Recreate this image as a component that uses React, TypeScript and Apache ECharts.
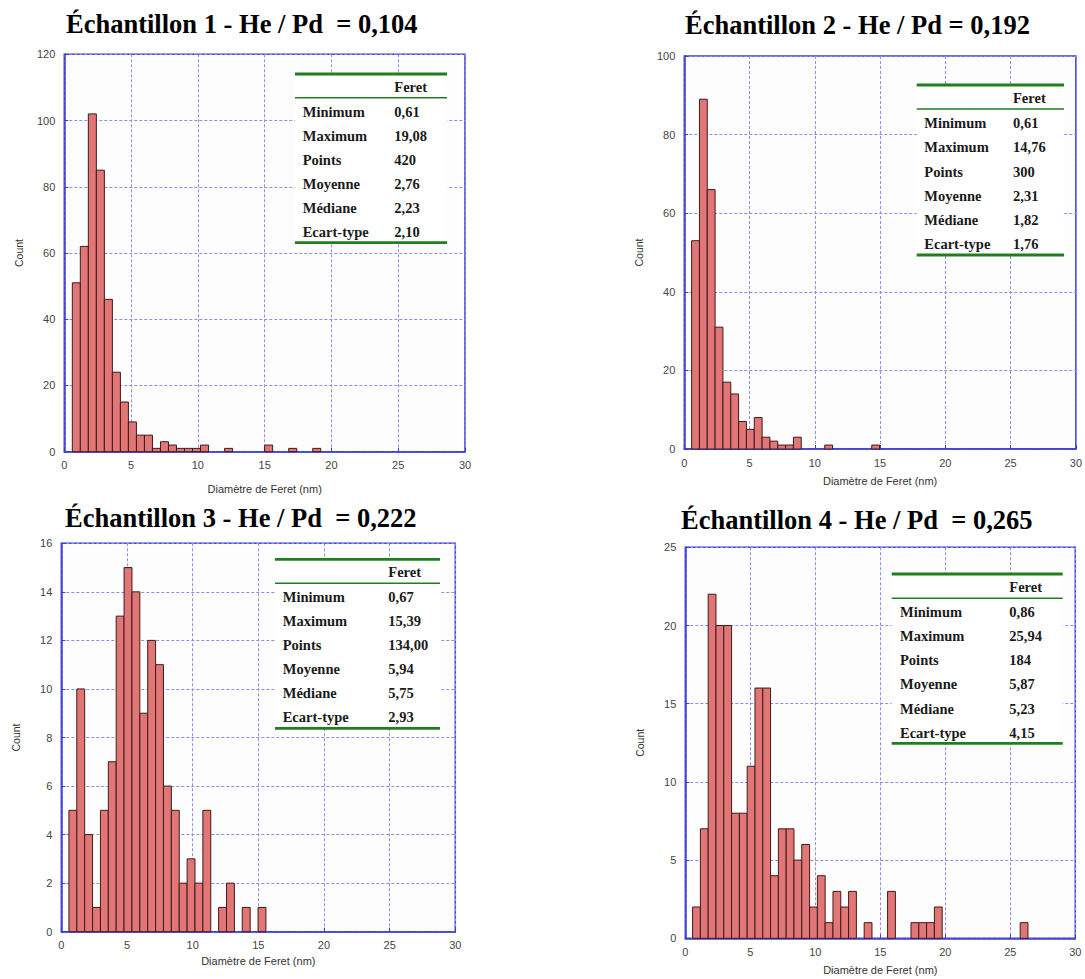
import React, { useEffect, useRef } from "react";
import * as echarts from "echarts";

// ---- Data ----
const titles = [
  "Échantillon 1 - He / Pd  = 0,104",
  "Échantillon 2 - He / Pd = 0,192",
  "Échantillon 3 - He / Pd  = 0,222",
  "Échantillon 4 - He / Pd  = 0,265",
];

// histogram counts per bin (bins of width binWidth starting at binStart)
const counts1 = [51, 62, 102, 85, 46, 24, 15, 9, 5, 5, 1, 3, 2, 1, 1, 1, 2, 0, 0, 1, 0, 0, 0, 0, 2, 0, 0, 1, 0, 0, 1];
const counts2 = [53, 89, 66, 31, 17, 14, 7, 5, 8, 3, 2, 1, 1, 3, 0, 0, 0, 1, 0, 0, 0, 0, 0, 1];
const counts3 = [5, 10, 4, 1, 5, 7, 13, 15, 14, 9, 12, 11, 6, 5, 2, 3, 2, 5, 0, 1, 2, 0, 1, 0, 1];
const counts4 = [2, 7, 22, 20, 20, 8, 8, 11, 16, 16, 4, 7, 7, 5, 6, 2, 4, 1, 3, 2, 3, 0, 1, 0, 0, 3, 0, 0, 1, 1, 1, 2, 0, 0, 0, 0, 0, 0, 0, 0, 0, 0, 1];

const binStarts = [0.6, 0.56, 0.58, 0.56];
const binWidths = [0.6, 0.6, 0.6, 0.6];

const xMax = [30, 30, 30, 30];
const xInterval = [5, 5, 5, 5];
const yMax = [120, 100, 16, 25];
const yInterval = [20, 20, 2, 5];

const statLabels = ["Minimum", "Maximum", "Points", "Moyenne", "Médiane", "Ecart-type"];
const stats1 = ["0,61", "19,08", "420", "2,76", "2,23", "2,10"];
const stats2 = ["0,61", "14,76", "300", "2,31", "1,82", "1,76"];
const stats3 = ["0,67", "15,39", "134,00", "5,94", "5,75", "2,93"];
const stats4 = ["0,86", "25,94", "184", "5,87", "5,23", "4,15"];
const statHeader = "Feret";

const xName = "Diamètre de Feret (nm)";
const yName = "Count";

// ---- Layout ----
const grids = [
  { left: 64.3, top: 54.3, width: 400.7, height: 397.4, nameGap: 32 },
  { left: 684.3, top: 56, width: 394, height: 393, nameGap: 26 },
  { left: 61.3, top: 543.3, width: 394, height: 388.4, nameGap: 24 },
  { left: 685.3, top: 547.3, width: 390, height: 391, nameGap: 26 },
];

const titlePos = [
  { x: 66, y: 24 },
  { x: 685, y: 25 },
  { x: 65, y: 518 },
  { x: 681, y: 520 },
];

const tables = [
  { x1: 295, x2: 447, top: 74, header: 87, mid: 97.7, row0: 111.7, step: 24.05, bottom: 242.7, lx: 302.7, vx: 394.3 },
  { x1: 916.7, x2: 1064, top: 85, header: 98, mid: 109, row0: 123.3, step: 24.1, bottom: 255, lx: 924.3, vx: 1013 },
  { x1: 275, x2: 440, top: 559.3, header: 572.3, mid: 583.3, row0: 596.7, step: 24, bottom: 728.3, lx: 282.7, vx: 388.3 },
  { x1: 891.7, x2: 1062.7, top: 574, header: 586.7, mid: 598.3, row0: 611.7, step: 24.2, bottom: 743.3, lx: 900, vx: 1009.3 },
];

const BLUE = "#3b3bd4";
const GRIDLINE = "#8e8ee8";
const BAR_FILL = "#e27676";
const BAR_STROKE = "#3c1c1c";
const GREEN = "#1f7f1f";
const SERIF = "'Liberation Serif', 'Times New Roman', serif";
const SANS = "'Liberation Sans', Arial, sans-serif";

export default function App() {
  const ref = useRef<HTMLDivElement>(null);

  useEffect(() => {
    if (!ref.current) return;
    const chart = echarts.init(ref.current, undefined, { renderer: "svg" });
    const allCounts = [counts1, counts2, counts3, counts4];
    const allStats = [stats1, stats2, stats3, stats4];

    const series = allCounts.map((cs, gi) => ({
      type: "custom",
      xAxisIndex: gi,
      yAxisIndex: gi,
      encode: { x: [0, 1], y: 2 },
      data: cs.map((c, i) => [
        binStarts[gi] + i * binWidths[gi],
        binStarts[gi] + (i + 1) * binWidths[gi],
        c,
      ]),
      renderItem: (params: any, api: any) => {
        const c = api.value(2);
        if (!c) return { type: "group", children: [] };
        const p0 = api.coord([api.value(0), c]);
        const p1 = api.coord([api.value(1), 0]);
        return {
          type: "rect",
          shape: { x: p0[0], y: p0[1], width: p1[0] - p0[0], height: p1[1] - p0[1] },
          style: { fill: BAR_FILL, stroke: BAR_STROKE, lineWidth: 1 },
        };
      },
    }));

    const graphics: any[] = [];
    titles.forEach((t, i) => {
      graphics.push({
        type: "text",
        x: titlePos[i].x,
        y: titlePos[i].y,
        style: {
          text: t,
          fill: "#000",
          font: `bold 26.5px ${SERIF}`,
          verticalAlign: "middle",
          align: "left",
        },
      });
    });
    tables.forEach((tb, i) => {
      graphics.push({
        type: "rect",
        shape: { x: tb.x1, y: tb.top, width: tb.x2 - tb.x1, height: tb.bottom - tb.top },
        style: { fill: "#ffffff" },
        z: 10,
      });
      const line = (y: number, w: number) => ({
        type: "line",
        shape: { x1: tb.x1, y1: y, x2: tb.x2, y2: y },
        style: { stroke: GREEN, lineWidth: w },
        z: 11,
      });
      graphics.push(line(tb.top, 2.8));
      graphics.push(line(tb.mid, 1.5));
      graphics.push(line(tb.bottom, 2.8));
      const txt = (x: number, y: number, s: string) => ({
        type: "text",
        x,
        y,
        z: 11,
        style: {
          text: s,
          fill: "#1a1a1a",
          font: `bold 14.5px ${SERIF}`,
          verticalAlign: "middle",
          align: "left",
        },
      });
      graphics.push(txt(tb.vx, tb.header, statHeader));
      statLabels.forEach((lab, k) => {
        graphics.push(txt(tb.lx, tb.row0 + k * tb.step, lab));
        graphics.push(txt(tb.vx, tb.row0 + k * tb.step, allStats[i][k]));
      });
    });

    chart.setOption({
      animation: false,
      backgroundColor: "#ffffff",
      grid: grids.map((g) => ({
        left: g.left,
        top: g.top,
        width: g.width,
        height: g.height,
        show: true,
        borderColor: BLUE,
        borderWidth: 1.5,
        backgroundColor: "#fdfdfd",
        containLabel: false,
      })),
      xAxis: grids.map((g, i) => ({
        type: "value",
        gridIndex: i,
        min: 0,
        max: xMax[i],
        interval: xInterval[i],
        name: xName,
        nameLocation: "middle",
        nameGap: g.nameGap,
        nameTextStyle: { color: "#333", fontSize: 11, fontFamily: SANS },
        axisLine: { show: true, lineStyle: { color: BLUE, width: 1.5 } },
        axisTick: { show: true, inside: true, length: 4, lineStyle: { color: BLUE } },
        axisLabel: { color: "#444", fontSize: 11, fontFamily: SANS, margin: 8 },
        splitLine: { show: true, lineStyle: { color: GRIDLINE, type: [3, 2], width: 1 } },
      })),
      yAxis: grids.map((g, i) => ({
        type: "value",
        gridIndex: i,
        min: 0,
        max: yMax[i],
        interval: yInterval[i],
        name: yName,
        nameLocation: "middle",
        nameGap: 40,
        nameTextStyle: { color: "#333", fontSize: 10.5, fontFamily: SANS },
        axisLine: { show: true, lineStyle: { color: BLUE, width: 1.5 } },
        axisTick: { show: true, inside: true, length: 4, lineStyle: { color: BLUE } },
        axisLabel: { color: "#444", fontSize: 11, fontFamily: SANS, margin: 9 },
        splitLine: { show: true, lineStyle: { color: GRIDLINE, type: [3, 2], width: 1 } },
      })),
      series,
      graphic: graphics,
    });
    return () => chart.dispose();
  }, []);

  return (
    <div
      ref={ref}
      style={{ position: "absolute", left: 0, top: 0, width: 1085, height: 979, background: "#fff" }}
    />
  );
}
